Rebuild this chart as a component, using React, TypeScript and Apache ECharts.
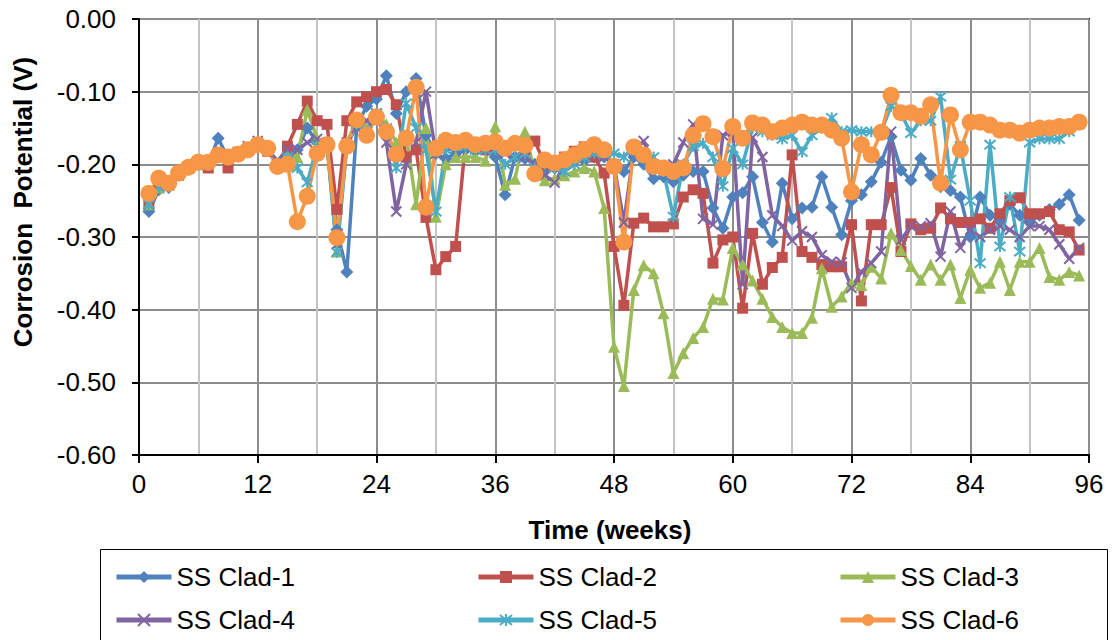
import React, { useEffect, useRef } from "react";
import * as echarts from "echarts";

// Measurement times (weeks)
const weeks = [
  1, 2, 3, 4, 5, 6, 7, 8, 9, 10, 11, 12, 13, 14, 15, 16, 17, 18, 19, 20,
  21, 22, 23, 24, 25, 26, 27, 28, 29, 30, 31, 32, 33, 34, 35, 36, 37, 38, 39, 40,
  41, 42, 43, 44, 45, 46, 47, 48, 49, 50, 51, 52, 53, 54, 55, 56, 57, 58, 59, 60,
  61, 62, 63, 64, 65, 66, 67, 68, 69, 70, 71, 72, 73, 74, 75, 76, 77, 78, 79, 80,
  81, 82, 83, 84, 85, 86, 87, 88, 89, 90, 91, 92, 93, 94, 95,
];

// Corrosion potential (V) of each specimen
const clad1 = [
  -0.265, -0.235, -0.232, -0.215, -0.207, -0.2, -0.2, -0.164, -0.192, -0.186,
  -0.18, -0.175, -0.18, -0.2, -0.19, -0.18, -0.15, -0.17, -0.175, -0.29,
  -0.348, -0.148, -0.12, -0.11, -0.078, -0.13, -0.1, -0.082, -0.16, -0.185,
  -0.192, -0.185, -0.18, -0.182, -0.18, -0.19, -0.242, -0.19, -0.192, -0.2,
  -0.21, -0.205, -0.2, -0.195, -0.195, -0.19, -0.19, -0.2, -0.21, -0.19,
  -0.2, -0.22, -0.217, -0.224, -0.215, -0.21, -0.21, -0.26, -0.288, -0.245,
  -0.239, -0.217, -0.28, -0.307, -0.226, -0.275, -0.26, -0.259, -0.217, -0.259,
  -0.297, -0.25, -0.242, -0.224, -0.197, -0.162, -0.208, -0.222, -0.192, -0.215,
  -0.231, -0.236, -0.245, -0.3, -0.245, -0.27, -0.275, -0.255, -0.27, -0.28,
  -0.27, -0.262, -0.255, -0.242, -0.277,
];

const clad2 = [
  -0.255, -0.232, -0.228, -0.215, -0.205, -0.2, -0.205, -0.185, -0.205, -0.185,
  -0.18, -0.175, -0.182, -0.2, -0.175, -0.145, -0.113, -0.14, -0.145, -0.262,
  -0.14, -0.114, -0.107, -0.1, -0.097, -0.118, -0.19, -0.18, -0.273, -0.345,
  -0.327, -0.313, -0.168, -0.175, -0.18, -0.175, -0.18, -0.172, -0.18, -0.168,
  -0.2, -0.195, -0.19, -0.182, -0.176, -0.19, -0.212, -0.313, -0.394, -0.281,
  -0.274, -0.286, -0.286, -0.282, -0.245, -0.235, -0.24, -0.336, -0.304, -0.3,
  -0.398, -0.295, -0.365, -0.342, -0.328, -0.187, -0.32, -0.328, -0.338, -0.341,
  -0.341, -0.283, -0.388, -0.283, -0.283, -0.232, -0.32, -0.282, -0.29, -0.288,
  -0.26, -0.275, -0.28, -0.28, -0.275, -0.288, -0.268, -0.25, -0.246, -0.268,
  -0.268, -0.265, -0.29, -0.293, -0.318,
];

const clad3 = [
  -0.255, -0.232, -0.228, -0.212, -0.205, -0.2, -0.2, -0.185, -0.19, -0.185,
  -0.18, -0.172, -0.18, -0.2, -0.185, -0.19, -0.125, -0.165, -0.175, -0.32,
  -0.17, -0.14, -0.15, -0.13, -0.145, -0.17, -0.16, -0.255, -0.15, -0.272,
  -0.2, -0.19, -0.19, -0.19, -0.195, -0.148, -0.228, -0.22, -0.155, -0.212,
  -0.222, -0.22, -0.215, -0.21, -0.205, -0.21, -0.26, -0.451, -0.505, -0.373,
  -0.339, -0.35, -0.405, -0.487, -0.46, -0.439, -0.424, -0.385, -0.386, -0.315,
  -0.338, -0.36, -0.385, -0.41, -0.424, -0.432, -0.432, -0.411, -0.343, -0.396,
  -0.382, -0.363, -0.366, -0.341, -0.357, -0.295, -0.318, -0.34, -0.359, -0.338,
  -0.359, -0.338, -0.384, -0.345, -0.37, -0.363, -0.334, -0.373, -0.334, -0.334,
  -0.315, -0.355, -0.359, -0.348, -0.353,
];

const clad4 = [
  -0.255, -0.23, -0.228, -0.212, -0.205, -0.2, -0.2, -0.185, -0.19, -0.183,
  -0.175, -0.168, -0.18, -0.195, -0.18, -0.18, -0.17, -0.165, -0.17, -0.31,
  -0.17, -0.15, -0.14, -0.13, -0.17, -0.265, -0.2, -0.17, -0.1, -0.185,
  -0.175, -0.17, -0.165, -0.175, -0.18, -0.18, -0.185, -0.19, -0.19, -0.2,
  -0.215, -0.225, -0.2, -0.19, -0.185, -0.185, -0.19, -0.2, -0.28, -0.18,
  -0.168, -0.2, -0.21, -0.2, -0.17, -0.145, -0.275, -0.283, -0.16, -0.155,
  -0.365, -0.163, -0.19, -0.27, -0.285, -0.305, -0.292, -0.3, -0.325, -0.334,
  -0.335, -0.37, -0.348, -0.336, -0.32, -0.155, -0.304, -0.285, -0.285, -0.281,
  -0.327, -0.265, -0.315, -0.29, -0.3, -0.29, -0.285, -0.29, -0.3, -0.285,
  -0.285, -0.29, -0.31, -0.33, -0.315,
];

const clad5 = [
  -0.255, -0.232, -0.228, -0.213, -0.205, -0.2, -0.2, -0.186, -0.19, -0.185,
  -0.18, -0.172, -0.18, -0.2, -0.19, -0.205, -0.225, -0.175, -0.17, -0.321,
  -0.175, -0.145, -0.155, -0.13, -0.15, -0.205, -0.116, -0.15, -0.18, -0.265,
  -0.18, -0.175, -0.175, -0.18, -0.18, -0.18, -0.2, -0.19, -0.185, -0.205,
  -0.2, -0.205, -0.21, -0.2, -0.19, -0.185, -0.18, -0.185, -0.19, -0.175,
  -0.185, -0.19, -0.21, -0.272, -0.2, -0.175, -0.171, -0.19, -0.23, -0.178,
  -0.2, -0.15, -0.155, -0.16, -0.165, -0.16, -0.183, -0.16, -0.15, -0.136,
  -0.155, -0.153, -0.155, -0.155, -0.155, -0.12, -0.13, -0.157, -0.14, -0.14,
  -0.107, -0.221, -0.175, -0.25, -0.336, -0.173, -0.313, -0.245, -0.32, -0.17,
  -0.165, -0.165, -0.165, -0.155, -0.145,
];

const clad6 = [
  -0.24, -0.219, -0.226, -0.212, -0.204, -0.197, -0.197, -0.187, -0.19, -0.186,
  -0.18, -0.173, -0.178, -0.203, -0.2, -0.279, -0.244, -0.185, -0.173, -0.301,
  -0.175, -0.139, -0.16, -0.135, -0.155, -0.186, -0.164, -0.094, -0.259, -0.178,
  -0.167, -0.17, -0.167, -0.173, -0.171, -0.169, -0.178, -0.171, -0.174, -0.213,
  -0.194, -0.198, -0.194, -0.187, -0.18, -0.173, -0.18, -0.203, -0.307, -0.176,
  -0.187, -0.203, -0.205, -0.21, -0.205, -0.16, -0.144, -0.162, -0.206, -0.148,
  -0.164, -0.143, -0.146, -0.155, -0.15, -0.146, -0.142, -0.146, -0.146, -0.153,
  -0.164, -0.238, -0.173, -0.187, -0.156, -0.105, -0.129, -0.129, -0.134, -0.118,
  -0.226, -0.132, -0.18, -0.142, -0.142, -0.146, -0.153, -0.153, -0.157, -0.153,
  -0.15, -0.15, -0.148, -0.148, -0.142,
];

const seriesNames = ["SS Clad-1", "SS Clad-2", "SS Clad-3", "SS Clad-4", "SS Clad-5", "SS Clad-6"];
const seriesValues = [clad1, clad2, clad3, clad4, clad5, clad6];
const seriesColors = ["#4F81BD", "#C0504D", "#9BBB59", "#8064A2", "#4BACC6", "#F79646"];

const xTicks = { min: 0, max: 96, step: 12 };
const yTicks = { min: -0.6, max: 0, step: 0.1 };

const FONT = "'Liberation Sans', Arial, sans-serif";

const crossPath = "path://M0,0L10,10M10,0L0,10";
const starPath = "path://M0,0L10,10M10,0L0,10M5,-1L5,11";

const markerStyles: any[] = [
  { symbol: "diamond", symbolSize: 13, stroke: false },
  { symbol: "rect", symbolSize: 11, stroke: false },
  { symbol: "triangle", symbolSize: 12, stroke: false },
  { symbol: crossPath, symbolSize: 10, stroke: true },
  { symbol: starPath, symbolSize: 11, stroke: true },
  { symbol: "circle", symbolSize: 17, stroke: false },
];

export default function App() {
  const ref = useRef<HTMLDivElement>(null);

  useEffect(() => {
    if (!ref.current) return;
    const chart = echarts.init(ref.current, undefined, { renderer: "svg" });

    const series = seriesNames.map((name, i) => {
      const m = markerStyles[i];
      const color = seriesColors[i];
      return {
        type: "line",
        name,
        data: weeks.map((w, k) => [w, seriesValues[i][k]]),
        color,
        symbol: m.symbol,
        symbolSize: m.symbolSize,
        showSymbol: true,
        lineStyle: { width: 3.5, color },
        itemStyle: m.stroke
          ? { color, borderColor: color, borderWidth: 2 }
          : { color, borderWidth: 0 },
        emphasis: { disabled: true },
      };
    });

    const legendCommon = {
      left: 114,
      orient: "horizontal",
      itemGap: 181,
      itemWidth: 55,
      itemHeight: 15,
      padding: 0,
      selectedMode: false,
      lineStyle: { width: 5 },
      textStyle: { fontSize: 26, fontFamily: FONT, color: "#000" },
    };

    chart.setOption({
      animation: false,
      backgroundColor: "#fff",
      grid: {
        left: 139,
        top: 19,
        right: 23,
        bottom: 185,
        show: true,
        borderColor: "#000",
        borderWidth: 2,
      },
      xAxis: {
        type: "value",
        min: xTicks.min,
        max: xTicks.max,
        interval: xTicks.step,
        axisLine: { show: true, onZero: false, lineStyle: { color: "#000", width: 2 } },
        axisTick: { show: true, inside: false, length: 8, lineStyle: { color: "#000", width: 2 } },
        axisLabel: { fontSize: 26, fontFamily: FONT, color: "#000", margin: 16 },
        splitLine: { show: true, lineStyle: { color: "#8c8c8c", width: 2 } },
        minorTick: { show: false, splitNumber: 2 },
        minorSplitLine: { show: true, lineStyle: { color: "#c4c4c4", width: 2 } },
      },
      yAxis: {
        type: "value",
        min: yTicks.min,
        max: yTicks.max,
        interval: yTicks.step,
        axisLine: { show: true, onZero: false, lineStyle: { color: "#000", width: 2 } },
        axisTick: { show: true, inside: false, length: 7, lineStyle: { color: "#000", width: 2 } },
        axisLabel: {
          fontSize: 26,
          fontFamily: FONT,
          color: "#000",
          margin: 23,
          formatter: (v: number) => v.toFixed(2),
        },
        splitLine: { show: true, lineStyle: { color: "#8c8c8c", width: 2 } },
      },
      legend: [
        { ...legendCommon, top: 564, data: seriesNames.slice(0, 3) },
        { ...legendCommon, top: 607, data: seriesNames.slice(3) },
      ],
      graphic: [
        {
          type: "rect",
          silent: true,
          shape: { x: 100.5, y: 549.5, width: 1007, height: 120 },
          style: { fill: "none", stroke: "#000", lineWidth: 1 },
        },
        {
          type: "text",
          silent: true,
          x: 610,
          y: 530,
          style: {
            text: "Time (weeks)",
            fontSize: 26,
            fontWeight: "bold",
            fontFamily: FONT,
            fill: "#000",
            align: "center",
            verticalAlign: "middle",
          },
        },
        {
          type: "text",
          silent: true,
          x: 23,
          y: 202,
          rotation: Math.PI / 2,
          style: {
            text: "Corrosion  Potential (V)",
            fontSize: 26,
            fontWeight: "bold",
            fontFamily: FONT,
            fill: "#000",
            align: "center",
            verticalAlign: "middle",
          },
        },
      ],
      series,
    });

    return () => chart.dispose();
  }, []);

  return (
    <div
      ref={ref}
      style={{ position: "absolute", left: 0, top: 0, width: 1112, height: 640, background: "#fff" }}
    />
  );
}
